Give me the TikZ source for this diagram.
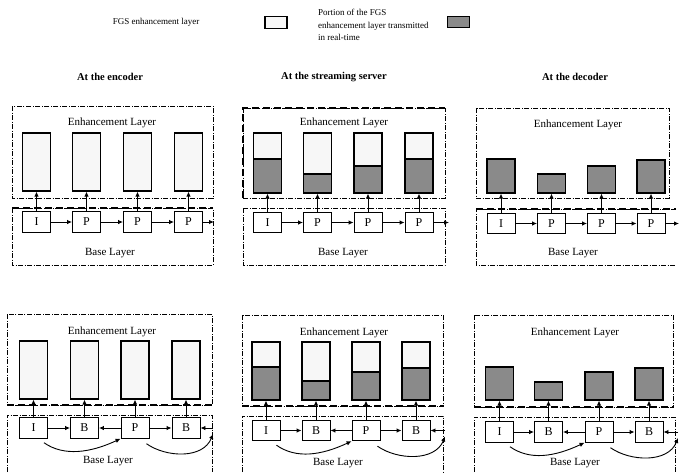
\documentclass[tikz,border=0pt]{standalone}
\usepackage{fontspec}
\setmainfont{Liberation Serif}
\usetikzlibrary{arrows.meta,calc}
\definecolor{fgsgray}{gray}{0.54}
\definecolor{fgslight}{gray}{0.97}
\newcommand\whitebox[4]{%
  \pgfmathsetmacro\myh{#4-#3}\pgfmathsetmacro\myc{(#3+#4)/2}%
  \node[fgsw, minimum height=\myh pt] (#1) at (#2,\myc) {};}
\newcommand\graybox[4]{%
  \pgfmathsetmacro\myh{#4-#3}\pgfmathsetmacro\myc{(#3+#4)/2}%
  \node[fgsg, minimum height=\myh pt] (#1) at (#2,\myc) {};}
\newcommand\splitbox[5]{%
  \pgfmathsetmacro\myh{#4-#3}\pgfmathsetmacro\myc{(#3+#4)/2}%
  \node[fgsw, minimum height=\myh pt] (#1u) at (#2,\myc) {};
  \pgfmathsetmacro\myh{#5-#4}\pgfmathsetmacro\myc{(#4+#5)/2}%
  \node[fgsg, minimum height=\myh pt] (#1) at (#2,\myc) {};}
\begin{document}
\begin{tikzpicture}[x=1pt,y=-1pt,
  fgsw/.style={draw, line width=1.1pt, fill=fgslight, inner sep=0pt, minimum width=28pt},
  fgsg/.style={draw, line width=1.1pt, fill=fgsgray, inner sep=0pt, minimum width=28pt},
  frame/.style={draw, line width=0.9pt, fill=white, minimum width=28pt, minimum height=20.5pt, inner sep=0pt, font=\fontsize{12}{14}\selectfont},
  arr/.style={-{Latex[length=5pt,width=4.5pt]}, line width=0.9pt},
  thinframe/.style={line width=0.5pt, dash pattern=on 5pt off 1.5pt on 1pt off 1.5pt},
  thickdash/.style={line width=1.3pt, dash pattern=on 7pt off 4pt},
  lab/.style={font=\fontsize{11}{13}\selectfont, inner sep=0pt},
  head/.style={font=\bfseries\fontsize{10.5}{12}\selectfont, inner sep=0pt},
  legend/.style={font=\fontsize{9}{12.5}\selectfont, inner sep=0pt}]
\useasboundingbox (0,0) rectangle (679,472);

% ---------------- legend ----------------
\node[legend] (lg1) at (156,22) {FGS enhancement layer};
\node[draw, line width=1.2pt, fill=fgslight, minimum width=22pt, minimum height=12pt, inner sep=0pt] (lgb1) at (276,22.5) {};
\node[legend, anchor=west, align=left] (lg2) at (318,25) {Portion of the FGS\\enhancement layer transmitted\\in real-time};
\node[draw, line width=1pt, fill=fgsgray, minimum width=22pt, minimum height=11pt, inner sep=0pt] (lgb2) at (458,22) {};

% ---------------- headers ----------------
\node[head] (h1) at (110,77) {At the encoder};
\node[head] (h2) at (334,77) {At the streaming server};
\node[head] (h3) at (575,77) {At the decoder};

% ================= TOP ROW =================
% ---- panel 1: encoder ----
\draw[thinframe] (12,106) rectangle (213,198);
\draw[thinframe] (12,208) rectangle (213,265);
\draw[thickdash] (12,208) -- (213,208);
\node[lab] (enA) at (112,123) {Enhancement Layer};
\node[lab] (baA) at (110,253) {Base Layer};
\whitebox{ae1}{36.5}{133}{191}
\whitebox{ae2}{86.5}{133}{191}
\whitebox{ae3}{137.5}{133}{191}
\whitebox{ae4}{188.5}{133}{191}
\node[frame] (a1) at (36.5,222) {I};
\node[frame] (a2) at (86.5,222) {P};
\node[frame] (a3) at (137.5,222) {P};
\node[frame] (a4) at (188.5,222) {P};
\coordinate (aend) at (214,222);
\draw[arr] (a1) -- (a2);
\draw[arr] (a2) -- (a3);
\draw[arr] (a3) -- (a4);
\draw[arr] (a4) -- (aend);
\foreach \i in {1,...,4} {\draw[arr] (a\i.north) -- (ae\i.south);}

% ---- panel 2: streaming server ----
\draw[thinframe] (243,108) rectangle (445,198);
\draw[thinframe] (243,208) rectangle (445,265);
\draw[thickdash] (243,198) -- (243,108) -- (445,108);
\node[lab] (enB) at (344,123) {Enhancement Layer};
\node[lab] (baB) at (343,253) {Base Layer};
\splitbox{be1}{267.5}{133}{159}{193}
\splitbox{be2}{317.5}{133}{174}{193}
\splitbox{be3}{368}{133}{166}{193}
\splitbox{be4}{419}{133}{159}{193}
\node[frame] (b1) at (267.5,222.5) {I};
\node[frame] (b2) at (317.5,222.5) {P};
\node[frame] (b3) at (368,222.5) {P};
\node[frame] (b4) at (419,222.5) {P};
\coordinate (bend) at (449,222.5);
\draw[arr] (b1) -- (b2);
\draw[arr] (b2) -- (b3);
\draw[arr] (b3) -- (b4);
\draw[arr] (b4) -- (bend);
\foreach \i in {1,...,4} {\draw[arr] (b\i.north) -- (be\i.south);}

% ---- panel 3: decoder ----
\draw[thinframe] (476,108) rectangle (669,198);
\draw[thinframe] (676,209) -- (476,209) -- (476,265) -- (676,265);
\draw[thickdash] (476,209) -- (676,209);
\node[lab] (enC) at (578,125) {Enhancement Layer};
\node[lab] (baC) at (573,253) {Base Layer};
\graybox{ce1}{501}{159}{193}
\graybox{ce2}{551.5}{174}{193}
\graybox{ce3}{601.5}{166}{193}
\graybox{ce4}{651}{160}{193}
\node[frame] (c1) at (501,223.5) {I};
\node[frame] (c2) at (551.5,223.5) {P};
\node[frame] (c3) at (601.5,223.5) {P};
\node[frame] (c4) at (651,223.5) {P};
\coordinate (cend) at (679,223.5);
\draw[arr] (c1) -- (c2);
\draw[arr] (c2) -- (c3);
\draw[arr] (c3) -- (c4);
\draw[arr] (c4) -- (cend);
\foreach \i in {1,...,4} {\draw[arr] (c\i.north) -- (ce\i.south);}

% ================= BOTTOM ROW =================
% ---- panel 4 ----
\draw[thinframe] (7,314) rectangle (212,405);
\draw[thinframe] (7,472) -- (7,415) -- (212,415) -- (212,472);
\draw[thickdash] (7,405) -- (212,405);
\node[lab] (enD) at (112,332) {Enhancement Layer};
\node[lab] (baD) at (108,461) {Base Layer};
\whitebox{de1}{33.5}{341}{399}
\whitebox{de2}{84.5}{341}{399}
\whitebox{de3}{135}{341}{399}
\whitebox{de4}{186}{341}{399}
\node[frame] (d1) at (33.5,428) {I};
\node[frame] (d2) at (84.5,428) {B};
\node[frame] (d3) at (135,428) {P};
\node[frame] (d4) at (186,428) {B};
\coordinate (dr) at (213,428);
\coordinate (dc) at (213,434);
\draw[arr] (d1) -- (d2);
\draw[arr] (d3) -- (d2);
\draw[arr] (d3) -- (d4);
\draw[arr] (dr) -- (d4);
\draw[arr] ([xshift=-4pt,yshift=-4pt]d1.south east) .. controls +(20,14) and +(-30,14) .. (d3.south west);
\draw[arr] ([xshift=-3pt,yshift=-5pt]d3.south east) .. controls +(20,14) and +(-10,25) .. (dc);
\foreach \i in {1,...,4} {\draw[arr] (d\i.north) -- (de\i.south);}

% ---- panel 5 ----
\draw[thinframe] (242,315) rectangle (443,406);
\draw[thinframe] (242,472) -- (242,416) -- (443,416) -- (443,472);
\draw[thickdash] (242,406) -- (443,406);
\node[lab] (enE) at (344,333) {Enhancement Layer};
\node[lab] (baE) at (338,463) {Base Layer};
\splitbox{ee1}{266}{342}{367}{400}
\splitbox{ee2}{316}{342}{381}{400}
\splitbox{ee3}{366}{342}{372}{400}
\splitbox{ee4}{416}{342}{368}{400}
\node[frame] (e1) at (266,430.5) {I};
\node[frame] (e2) at (316,430.5) {B};
\node[frame] (e3) at (366,430.5) {P};
\node[frame] (e4) at (416,430.5) {B};
\coordinate (er) at (445,430.5);
\coordinate (ec) at (445,436.5);
\draw[arr] (e1) -- (e2);
\draw[arr] (e3) -- (e2);
\draw[arr] (e3) -- (e4);
\draw[arr] (er) -- (e4);
\draw[arr] ([xshift=-4pt,yshift=-4pt]e1.south east) .. controls +(20,14) and +(-30,14) .. (e3.south west);
\draw[arr] ([xshift=-3pt,yshift=-5pt]e3.south east) .. controls +(20,14) and +(-10,25) .. (ec);
\foreach \i in {1,...,4} {\draw[arr] (e\i.north) -- (ee\i.south);}

% ---- panel 6 ----
\draw[thinframe] (474,315) rectangle (673,407);
\draw[thinframe] (474,472) -- (474,417) -- (675,417) -- (675,472);
\draw[thickdash] (474,407) -- (673,407);
\node[lab] (enF) at (575,333) {Enhancement Layer};
\node[lab] (baF) at (575,463) {Base Layer};
\graybox{fe1}{499.5}{367}{400}
\graybox{fe2}{548.5}{382}{400}
\graybox{fe3}{599}{372}{400}
\graybox{fe4}{649}{368}{400}
\node[frame] (f1) at (499.5,432) {I};
\node[frame] (f2) at (548.5,432) {B};
\node[frame] (f3) at (599,432) {P};
\node[frame] (f4) at (649,432) {B};
\coordinate (fr) at (678,432);
\coordinate (fc) at (678,438);
\draw[arr] (f1) -- (f2);
\draw[arr] (f3) -- (f2);
\draw[arr] (f3) -- (f4);
\draw[arr] (fr) -- (f4);
\draw[arr] ([xshift=-4pt,yshift=-4pt]f1.south east) .. controls +(20,14) and +(-30,14) .. (f3.south west);
\draw[arr] ([xshift=-3pt,yshift=-5pt]f3.south east) .. controls +(20,14) and +(-10,25) .. (fc);
\foreach \i in {1,...,4} {\draw[arr] (f\i.north) -- (fe\i.south);}
\end{tikzpicture}
\end{document}
